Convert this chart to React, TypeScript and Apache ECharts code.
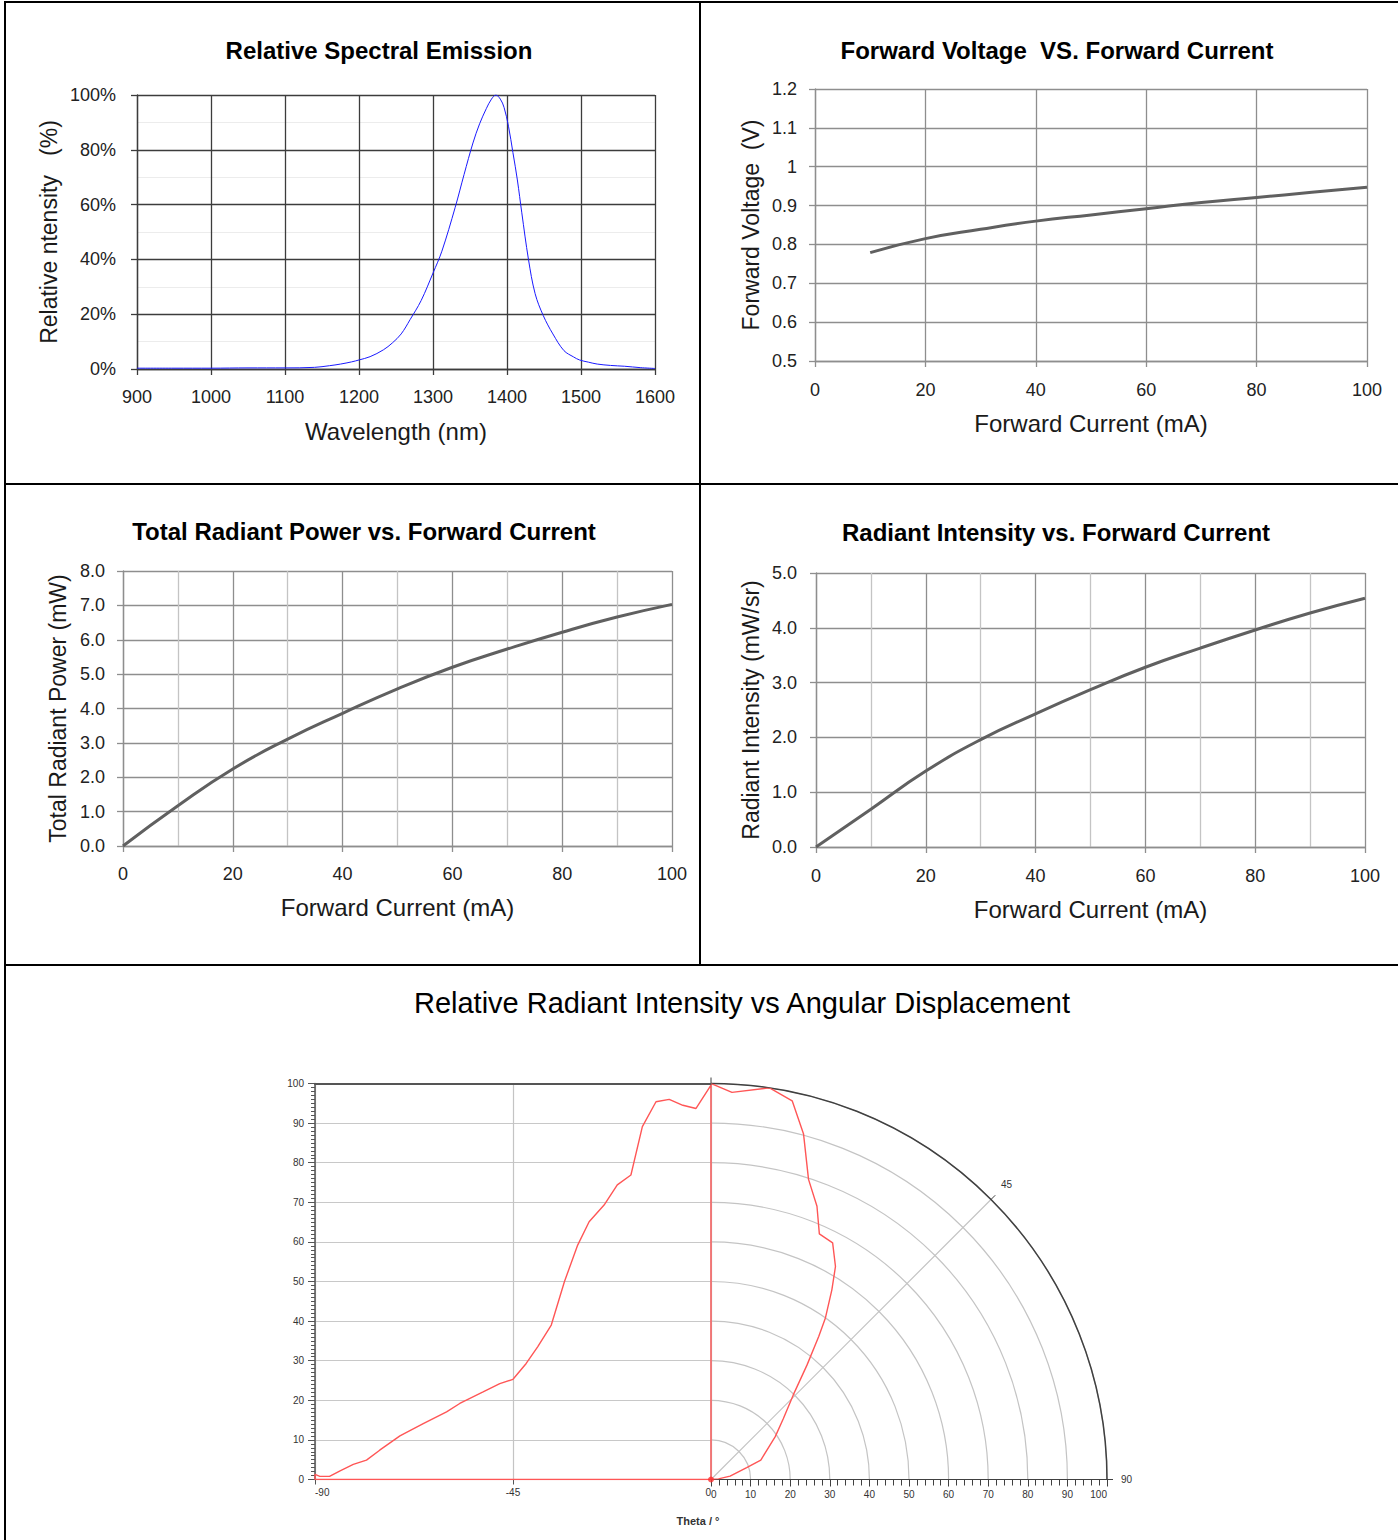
import React, { useEffect, useRef } from 'react';
import * as echarts from 'echarts';

const FONT = 'Liberation Sans';

// ---------- Panel 1: Relative Spectral Emission ----------
const wavelengthNm = [900, 950, 1000, 1050, 1100, 1140, 1160, 1175, 1190, 1200, 1215, 1233, 1245, 1257, 1269, 1284, 1300, 1312, 1330, 1342, 1354, 1363, 1372, 1379, 1385, 1391, 1396, 1402, 1408, 1414, 1420, 1429, 1438, 1449, 1462, 1477, 1490, 1498, 1510, 1522, 1540, 1559, 1580, 1600];
const spectralPct = [0.3, 0.3, 0.3, 0.4, 0.4, 0.6, 1.2, 1.8, 2.6, 3.3, 4.5, 7, 9.5, 12.8, 18, 25, 35, 43, 59, 71, 82.5, 89.5, 95, 98.5, 100, 98.5, 95.5, 88.6, 79, 69, 57, 40, 27.5, 19.5, 12.8, 6.7, 4.4, 3.3, 2.5, 1.8, 1.3, 1.0, 0.5, 0.2];

// ---------- Panel 2: Forward Voltage vs Forward Current ----------
const vfCurrentMa = [10, 20, 30, 40, 50, 60, 70, 80, 90, 100];
const vfVolts = [0.779, 0.815, 0.839, 0.86, 0.876, 0.892, 0.908, 0.921, 0.934, 0.947];

// ---------- Panels 3 & 4 ----------
const currentMa = [0, 10, 20, 30, 40, 50, 60, 70, 80, 90, 100];
const radiantPowerMw = [0, 1.17, 2.24, 3.11, 3.86, 4.57, 5.2, 5.73, 6.22, 6.66, 7.03];
const radiantIntensityMwSr = [0, 0.69, 1.385, 1.96, 2.43, 2.87, 3.28, 3.63, 3.96, 4.27, 4.54];

// ---------- Panel 5: Angular displacement ----------
const thetaLeftDeg = [0, -90, -90, -88.9, -86.7, -84.3, -81.3, -78.3, -75.3, -70.7, -65.4, -60.1, -57.1, -51.8, -48, -45, -42, -39.4, -36.3, -33.3, -30.3, -27.7, -24.3, -21.3, -18.2, -15.6, -12.5, -9.5, -6.4, -3.4, 0, 0];
const relLeft = [0, 0, 1.3, 0.8, 0.8, 2.2, 3.8, 4.9, 7.4, 11, 14.1, 17.1, 19.2, 22.1, 24.2, 25.3, 29.3, 33.5, 39, 50, 59.2, 65.1, 69.3, 74.4, 76.9, 89.1, 95.4, 96, 94.5, 93.7, 99.6, 0];
const thetaPolarDeg = [0, 3.1, 8.5, 12.1, 15, 18, 21.2, 23.8, 27.2, 30.3, 32.5, 35.3, 37, 40, 44.2, 49.9, 56.3, 68.7, 71.5, 80, 85, 90];
const relPolar = [100, 97.9, 100, 97.8, 90.3, 79.7, 74, 67.8, 67.2, 62.3, 56.8, 50, 45.2, 37.7, 29.8, 23.9, 19.5, 13.5, 9.5, 4.9, 1.9, 0];

const zip = (a: number[], b: number[]) => a.map((v, i) => [v, b[i]]);

const xNameStyle = { fontSize: 24, color: '#1a1a1a', fontFamily: FONT };
const yNameStyle = { fontSize: 23, color: '#1a1a1a', fontFamily: FONT };
const tickLabel = (margin: number, extra: any = {}) => ({ fontSize: 18, color: '#222', margin, fontFamily: FONT, ...extra });
const titleStyle = { fontSize: 24, fontWeight: 'bold', color: '#000', fontFamily: FONT };

function excelAxis(color: string, o: any) {
  return {
    type: 'value',
    nameLocation: 'middle',
    axisLine: { show: true, onZero: false, lineStyle: { color, width: 1.3 } },
    axisTick: { show: true, length: 6, lineStyle: { color, width: 1.3 } },
    splitLine: { show: true, lineStyle: { color, width: 1.3 } },
    ...o,
  };
}

export default function App() {
  const ref = useRef<HTMLDivElement>(null);
  useEffect(() => {
    if (!ref.current) return;
    const chart = echarts.init(ref.current, null, { renderer: 'svg' });
    const dark = '#3c3c3c';
    const mid = '#8e8e8e';
    const red = '#ff5656';
    const option: any = {
      animation: false,
      backgroundColor: '#fff',
      textStyle: { fontFamily: FONT },
      title: [
        { text: 'Relative Spectral Emission', left: 379, top: 38, textAlign: 'center', padding: 0, textStyle: titleStyle },
        { text: 'Forward Voltage  VS. Forward Current', left: 1057, top: 38, textAlign: 'center', padding: 0, textStyle: titleStyle },
        { text: 'Total Radiant Power vs. Forward Current', left: 364, top: 519, textAlign: 'center', padding: 0, textStyle: titleStyle },
        { text: 'Radiant Intensity vs. Forward Current', left: 1056, top: 520, textAlign: 'center', padding: 0, textStyle: titleStyle },
        { text: 'Relative Radiant Intensity vs Angular Displacement', left: 742, top: 988, textAlign: 'center', padding: 0, textStyle: { fontSize: 29, fontWeight: 'normal', color: '#000', fontFamily: FONT } },
      ],
      grid: [
        { left: 137, top: 95, width: 518, height: 274, outerBoundsMode: 'none' },
        { left: 815, top: 89, width: 552, height: 272, outerBoundsMode: 'none' },
        { left: 123, top: 571, width: 549, height: 275, outerBoundsMode: 'none' },
        { left: 816, top: 573, width: 549, height: 274, outerBoundsMode: 'none' },
        { left: 315, top: 1083.5, width: 396, height: 396, outerBoundsMode: 'none' },
        { left: 711, top: 1083.5, width: 396, height: 396, outerBoundsMode: 'none' },
      ],
      xAxis: [
        excelAxis(dark, { gridIndex: 0, min: 900, max: 1600, interval: 100, name: 'Wavelength (nm)', nameGap: 50, nameTextStyle: xNameStyle,
          axisLabel: tickLabel(19, { formatter: (v: number) => String(v) }) }),
        excelAxis(mid, { gridIndex: 1, min: 0, max: 100, interval: 20, name: 'Forward Current (mA)', nameGap: 50, nameTextStyle: xNameStyle, axisLabel: tickLabel(20) }),
        excelAxis(mid, { gridIndex: 2, min: 0, max: 100, interval: 20, name: 'Forward Current (mA)', nameGap: 49, nameTextStyle: xNameStyle, axisLabel: tickLabel(19),
          minorTick: { show: false, splitNumber: 2 }, minorSplitLine: { show: true, lineStyle: { color: '#c4c4c4', width: 1.3 } } }),
        excelAxis(mid, { gridIndex: 3, min: 0, max: 100, interval: 20, name: 'Forward Current (mA)', nameGap: 50, nameTextStyle: xNameStyle, axisLabel: tickLabel(20),
          minorTick: { show: false, splitNumber: 2 }, minorSplitLine: { show: true, lineStyle: { color: '#c4c4c4', width: 1.3 } } }),
        {
          type: 'value', gridIndex: 4, min: -90, max: 0, interval: 45,
          axisLine: { show: true, onZero: false, lineStyle: { color: '#555' } },
          axisTick: { show: true, length: 5, lineStyle: { color: '#555' } },
          axisLabel: { fontSize: 10, color: '#333', margin: 8, alignMinLabel: 'left', alignMaxLabel: 'right' },
          splitLine: { show: true, lineStyle: { color: '#c4c4c4', width: 1.2 } },
        },
        {
          type: 'value', gridIndex: 4, position: 'top', min: -90, max: 0,
          axisLine: { show: true, onZero: false, lineStyle: { color: '#555', width: 2 } },
          axisTick: { show: false }, axisLabel: { show: false }, splitLine: { show: false },
        },
        {
          type: 'value', gridIndex: 5, min: 0, max: 100, interval: 10,
          axisLine: { show: true, onZero: false, lineStyle: { color: '#404040', width: 1.2 } },
          axisTick: { show: true, length: 7, lineStyle: { color: '#404040' } },
          minorTick: { show: true, splitNumber: 5, length: 6, lineStyle: { color: '#404040' } },
          axisLabel: { fontSize: 10, color: '#333', margin: 10, alignMinLabel: 'left', alignMaxLabel: 'right' },
          splitLine: { show: false },
        },
      ],
      yAxis: [
        excelAxis(dark, { gridIndex: 0, min: 0, max: 100, interval: 20, name: 'Relative ntensity   (%)', nameGap: 77, nameTextStyle: yNameStyle,
          axisLabel: tickLabel(21, { formatter: '{value}%' }),
          minorTick: { show: false, splitNumber: 2 }, minorSplitLine: { show: true, lineStyle: { color: '#ececec', width: 1.2 } } }),
        excelAxis(mid, { gridIndex: 1, min: 0.5, max: 1.2, interval: 0.1, name: 'Forward Voltage  (V)', nameGap: 53, nameTextStyle: yNameStyle, axisLabel: tickLabel(18) }),
        excelAxis(mid, { gridIndex: 2, min: 0, max: 8, interval: 1, name: 'Total Radiant Power (mW)', nameGap: 54, nameTextStyle: yNameStyle,
          axisLabel: tickLabel(18, { formatter: (v: number) => v.toFixed(1) }) }),
        excelAxis(mid, { gridIndex: 3, min: 0, max: 5, interval: 1, name: 'Radiant Intensity (mW/sr)', nameGap: 54, nameTextStyle: yNameStyle,
          axisLabel: tickLabel(19, { formatter: (v: number) => v.toFixed(1) }) }),
        {
          type: 'value', gridIndex: 4, min: 0, max: 100, interval: 10,
          axisLine: { show: true, onZero: false, lineStyle: { color: '#555', width: 1.5 } },
          axisTick: { show: true, length: 7, lineStyle: { color: '#555' } },
          minorTick: { show: true, splitNumber: 10, length: 4, lineStyle: { color: '#555' } },
          axisLabel: { fontSize: 10, color: '#333', margin: 11 },
          splitLine: { show: true, lineStyle: { color: '#c8c8c8', width: 1.2 } },
        },
        { type: 'value', gridIndex: 5, min: 0, max: 100, show: false },
      ],
      polar: { center: [711, 1479.5], radius: 396 },
      angleAxis: {
        type: 'value', min: 0, max: 90, interval: 45, startAngle: 90, endAngle: 0, clockwise: true,
        axisLine: { show: true, lineStyle: { color: '#404040', width: 1.5 } },
        axisTick: { show: true, length: 6, lineStyle: { color: '#404040' } },
        axisLabel: { margin: 14, fontSize: 10, color: '#333', formatter: (v: number) => (v === 0 ? '' : String(v)) },
        splitLine: { show: true, lineStyle: { color: '#c4c4c4', width: 1.2 } },
      },
      radiusAxis: {
        type: 'value', min: 0, max: 100, interval: 10,
        axisLine: { show: false }, axisTick: { show: false }, axisLabel: { show: false },
        splitLine: { show: true, lineStyle: { color: '#c4c4c4', width: 1.2 } },
      },
      series: [
        { type: 'line', xAxisIndex: 0, yAxisIndex: 0, data: zip(wavelengthNm, spectralPct), showSymbol: false, smooth: 0.35, lineStyle: { color: '#1a1aff', width: 1 } },
        { type: 'line', xAxisIndex: 1, yAxisIndex: 1, data: zip(vfCurrentMa, vfVolts), showSymbol: false, smooth: true, lineStyle: { color: '#606060', width: 3 } },
        { type: 'line', xAxisIndex: 2, yAxisIndex: 2, data: zip(currentMa, radiantPowerMw), showSymbol: false, smooth: true, lineStyle: { color: '#606060', width: 3 } },
        { type: 'line', xAxisIndex: 3, yAxisIndex: 3, data: zip(currentMa, radiantIntensityMwSr), showSymbol: false, smooth: true, lineStyle: { color: '#606060', width: 3 } },
        { type: 'line', xAxisIndex: 4, yAxisIndex: 4, data: zip(thetaLeftDeg, relLeft), showSymbol: false, lineStyle: { color: red, width: 1.4 }, z: 5 },
        { type: 'scatter', xAxisIndex: 4, yAxisIndex: 4, data: [[0, 0]], symbolSize: 6, itemStyle: { color: '#ff3030' }, z: 6 },
        { type: 'line', coordinateSystem: 'polar', polarIndex: 0, data: zip(relPolar, thetaPolarDeg), showSymbol: false, lineStyle: { color: red, width: 1.4 }, z: 5 },
      ],
      graphic: [
        { type: 'line', shape: { x1: 4, y1: 2, x2: 1398, y2: 2 }, style: { stroke: '#000', lineWidth: 2 } },
        { type: 'line', shape: { x1: 5, y1: 1, x2: 5, y2: 1540 }, style: { stroke: '#000', lineWidth: 2 } },
        { type: 'line', shape: { x1: 700, y1: 2, x2: 700, y2: 965 }, style: { stroke: '#000', lineWidth: 2 } },
        { type: 'line', shape: { x1: 4, y1: 484, x2: 1398, y2: 484 }, style: { stroke: '#000', lineWidth: 2 } },
        { type: 'line', shape: { x1: 4, y1: 965, x2: 1398, y2: 965 }, style: { stroke: '#000', lineWidth: 2 } },
        { type: 'text', x: 698, y: 1521, style: { text: 'Theta / °', fill: '#333', font: `bold 11px "${FONT}"`, align: 'center', verticalAlign: 'middle' } },
      ],
    };
    chart.setOption(option);
    return () => chart.dispose();
  }, []);
  return <div ref={ref} style={{ position: 'absolute', left: 0, top: 0, width: 1398, height: 1540, background: '#fff' }} />;
}
